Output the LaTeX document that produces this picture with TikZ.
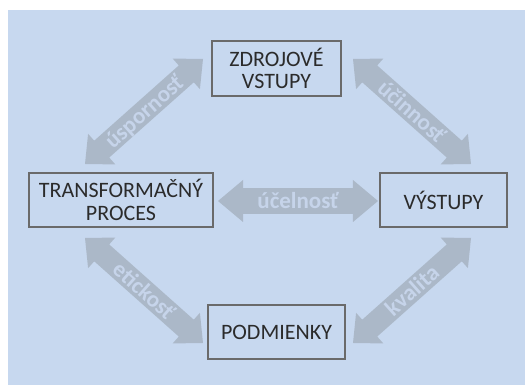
\documentclass[tikz,border=0pt]{standalone}
\usepackage{fontspec}
\setmainfont{Carlito}
\usetikzlibrary{shapes.arrows,calc}
\definecolor{bgblue}{HTML}{C7D8EF}
\definecolor{arrgray}{HTML}{ABB8C8}
\definecolor{arrtext}{HTML}{C6D4EA}
\definecolor{boxline}{HTML}{6A6A6A}
\definecolor{boxtext}{HTML}{2B2B2B}
\newcommand\blockarrow[5]{%
  \path let \p1=($(#2)-(#1)$), \n1={atan2(\y1,\x1)}, \n2={veclen(\x1,\y1)} in
    node[#3, rotate=\n1, minimum height=\n2] (#5) at ($(#1)!0.5!(#2)$) {#4};}
\begin{document}
\begin{tikzpicture}[x=1pt,y=1pt,
  box/.style={draw=boxline, line width=2pt, fill=bgblue, inner sep=0pt,
    align=center, text=boxtext, font=\fontsize{22}{22.5}\selectfont},
  diagarrow/.style={double arrow, fill=arrgray, draw=none, inner sep=0pt,
    minimum width=41pt, double arrow head extend=6.5pt, double arrow tip angle=85,
    text=arrtext, font=\bfseries\fontsize{23}{23}\selectfont,
    text height=15.5pt, text depth=0pt},
  horarrow/.style={diagarrow, minimum width=42pt, double arrow head extend=5pt,
    double arrow tip angle=80}]
\useasboundingbox (0,0) rectangle (525,385);
\fill[bgblue] (8,0) rectangle (525,375);
% boxes
\node[box, minimum width=129pt, minimum height=55pt] (zv) at (276.5,316.5) {ZDROJOVÉ\\VSTUPY};
\node[box, minimum width=184pt, minimum height=54pt] (tp) at (121,185) {TRANSFORMAČNÝ\\PROCES};
\node[box, minimum width=127pt, minimum height=54pt] (vy) at (443.5,185) {VÝSTUPY};
\node[box, minimum width=137pt, minimum height=54pt] (po) at (276.5,53) {PODMIENKY};
% arrow end points
\coordinate (uspA) at (85,221);  \coordinate (uspB) at (203,326);
\coordinate (uciA) at (353,326); \coordinate (uciB) at (471,221);
\coordinate (etiA) at (85,147);  \coordinate (etiB) at (203,42);
\coordinate (kvaA) at (353,42);  \coordinate (kvaB) at (471,147);
\coordinate (uceA) at (218,184); \coordinate (uceB) at (378,184);
% arrows
\blockarrow{uspA}{uspB}{diagarrow}{úspornosť}{usp}
\blockarrow{uciA}{uciB}{diagarrow}{účinnosť}{uci}
\blockarrow{etiA}{etiB}{diagarrow}{etickosť}{eti}
\blockarrow{kvaA}{kvaB}{diagarrow}{kvalita}{kva}
\blockarrow{uceA}{uceB}{horarrow}{účelnosť}{uce}
\end{tikzpicture}
\end{document}
